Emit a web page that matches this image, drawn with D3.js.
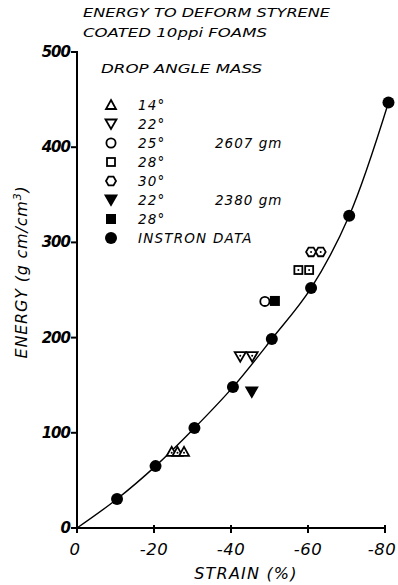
<!DOCTYPE html>
<html><head><meta charset="utf-8">
<script src="https://cdn.jsdelivr.net/npm/d3@7"></script>
<style>body{margin:0;background:#fff}svg{display:block}text{font-family:"DejaVu Sans",sans-serif;font-style:italic;fill:#000}</style>
</head><body>
<script>
// ---- data ----
const titleLines = ["ENERGY TO DEFORM STYRENE", "COATED  10ppi FOAMS"];
const xTicks = [0, -20, -40, -60, -80];
const yTicks = [0, 100, 200, 300, 400, 500];
const instronStrain = [-10.4, -20.4, -30.5, -40.5, -50.6, -60.8, -70.7, -80.9];
const instronEnergy = [30.5, 65, 105, 148, 198.5, 252, 328, 447];
const tri14Strain = [-24.6, -26.1, -27.8];      const tri14Energy = [80, 80, 80];
const inv22Strain = [-42.4, -45.5];             const inv22Energy = [180, 180];
const circ25Strain = [-48.8];                   const circ25Energy = [238];
const sq28Strain = [-57.5, -60.3];              const sq28Energy = [271, 271];
const hex30Strain = [-60.8, -63.3];             const hex30Energy = [290, 290];
const finv22Strain = [-45.4];                   const finv22Energy = [143];
const fsq28Strain = [-51.4];                    const fsq28Energy = [238.5];
const legendSymbols = ["tri", "inv", "circle", "square", "hex", "finv", "fsquare", "fcircle"];
const legendAngles = ["14°", "22°", "25°", "28°", "30°", "22°", "28°", "INSTRON DATA"];
const legendMass = ["", "", "2607 gm", "", "", "2380 gm", "", ""];

const W = 398, H = 585;
const svg = d3.select("body").append("svg").attr("width", W).attr("height", H);
const x = d3.scaleLinear().domain([0, -80]).range([77, 385]);
const y = d3.scaleLinear().domain([0, 500]).range([528, 52]);

// titles
svg.append("text").attr("x", 83).attr("y", 17).attr("font-size", 12.5)
  .attr("textLength", 247).attr("lengthAdjust", "spacingAndGlyphs").text(titleLines[0]);
svg.append("text").attr("x", 83).attr("y", 37).attr("font-size", 12.5)
  .attr("textLength", 184).attr("lengthAdjust", "spacingAndGlyphs").text(titleLines[1]);

// axes
const axG = svg.append("g").attr("stroke", "#000").attr("stroke-width", 2).attr("fill", "none");
axG.append("line").attr("x1", x(0)).attr("x2", x(0)).attr("y1", y(500) - 1).attr("y2", y(0) + 4);
axG.append("line").attr("x1", x(0) - 4).attr("x2", x(-80) + 1).attr("y1", y(0)).attr("y2", y(0));
yTicks.forEach(v => {
  axG.append("line").attr("x1", x(0) - 6).attr("x2", x(0)).attr("y1", y(v)).attr("y2", y(v));
});
xTicks.forEach(v => {
  axG.append("line").attr("x1", x(v)).attr("x2", x(v)).attr("y1", y(0) - 3).attr("y2", y(0) + 5);
});
yTicks.forEach(v => {
  svg.append("text").attr("x", x(0) - 7).attr("y", y(v) + 5).attr("text-anchor", "end")
    .attr("font-size", 15).attr("font-weight", "bold").attr("letter-spacing", -1).text(v);
});
xTicks.forEach(v => {
  svg.append("text").attr("x", x(v) + (v === 0 ? -2 : v === -80 ? -3 : 0)).attr("y", 555).attr("text-anchor", "middle")
    .attr("font-size", 16.5).attr("letter-spacing", 0.5).text(v === 0 ? "0" : "-" + Math.abs(v));
});
svg.append("text").attr("x", 246).attr("y", 579).attr("text-anchor", "middle").attr("font-size", 16)
  .attr("letter-spacing", 1.2).text("STRAIN (%)");
const yt = svg.append("text").attr("transform", "translate(27,272) rotate(-90)")
  .attr("text-anchor", "middle").attr("font-size", 16).attr("letter-spacing", 0.8);
yt.append("tspan").text("ENERGY  (g cm/cm");
yt.append("tspan").attr("dy", -6).attr("font-size", 11).text("3");
yt.append("tspan").attr("dy", 6).text(")");

// curve
const curvePts = [[0, 0]].concat(instronStrain.map((s, i) => [s, instronEnergy[i]]));
svg.append("path").datum(curvePts)
  .attr("d", d3.line().x(d => x(d[0])).y(d => y(d[1])).curve(d3.curveCatmullRom.alpha(0.5)))
  .attr("fill", "none").attr("stroke", "#000").attr("stroke-width", 1.4);

// symbol drawing
function drawSym(g, type, cx, cy, dot) {
  const sw = 1.8;
  if (type === "tri") {
    g.append("path").attr("d", `M${cx},${cy-5} L${cx+5},${cy+4} L${cx-5},${cy+4} Z`)
      .attr("fill", "#fff").attr("stroke", "#000").attr("stroke-width", sw);
  } else if (type === "inv" || type === "finv") {
    g.append("path").attr("d", `M${cx-5.5},${cy-4.5} L${cx+5.5},${cy-4.5} L${cx},${cy+5} Z`)
      .attr("fill", type === "finv" ? "#000" : "#fff").attr("stroke", "#000").attr("stroke-width", sw);
  } else if (type === "circle") {
    g.append("circle").attr("cx", cx).attr("cy", cy).attr("r", 4.6)
      .attr("fill", "#fff").attr("stroke", "#000").attr("stroke-width", sw);
  } else if (type === "square") {
    g.append("rect").attr("x", cx - 4).attr("y", cy - 4).attr("width", 8).attr("height", 8)
      .attr("fill", "#fff").attr("stroke", "#000").attr("stroke-width", sw);
  } else if (type === "fsquare") {
    g.append("rect").attr("x", cx - 5).attr("y", cy - 5).attr("width", 10).attr("height", 10).attr("fill", "#000");
  } else if (type === "hex") {
    const r = 5;
    const pts = d3.range(6).map(i => { const a = Math.PI / 3 * i; return [cx + r * Math.cos(a), cy + r * Math.sin(a)]; });
    g.append("path").attr("d", "M" + pts.map(p => p.join(",")).join("L") + "Z")
      .attr("fill", "#fff").attr("stroke", "#000").attr("stroke-width", sw);
  } else if (type === "fcircle") {
    g.append("circle").attr("cx", cx).attr("cy", cy).attr("r", 6).attr("fill", "#000");
  }
  if (dot && ["tri", "inv", "square", "hex"].includes(type)) {
    g.append("circle").attr("cx", cx).attr("cy", cy + (type === "tri" ? 1 : type === "inv" ? -1 : 0)).attr("r", 1).attr("fill", "#000");
  }
}

const mk = svg.append("g");
const series = [
  ["tri", tri14Strain, tri14Energy], ["inv", inv22Strain, inv22Energy],
  ["circle", circ25Strain, circ25Energy], ["square", sq28Strain, sq28Energy],
  ["hex", hex30Strain, hex30Energy], ["finv", finv22Strain, finv22Energy],
  ["fsquare", fsq28Strain, fsq28Energy], ["fcircle", instronStrain, instronEnergy]
];
series.forEach(([t, xs, ys]) => xs.forEach((s, i) => drawSym(mk, t, x(s), y(ys[i]), true)));

// legend
svg.append("text").attr("x", 101).attr("y", 73).attr("font-size", 13)
  .attr("textLength", 161).attr("lengthAdjust", "spacingAndGlyphs").text("DROP ANGLE  MASS");
const lg = svg.append("g");
legendSymbols.forEach((t, i) => {
  const cy = 105 + 19 * i;
  drawSym(lg, t, 111, cy, false);
  lg.append("text").attr("x", 138).attr("y", cy + 5).attr("font-size", 13.5).attr("letter-spacing", 1.2).text(legendAngles[i]);
  if (legendMass[i]) lg.append("text").attr("x", 215).attr("y", cy + 5).attr("font-size", 13.5).attr("letter-spacing", 1).text(legendMass[i]);
});
</script>
</body></html>
